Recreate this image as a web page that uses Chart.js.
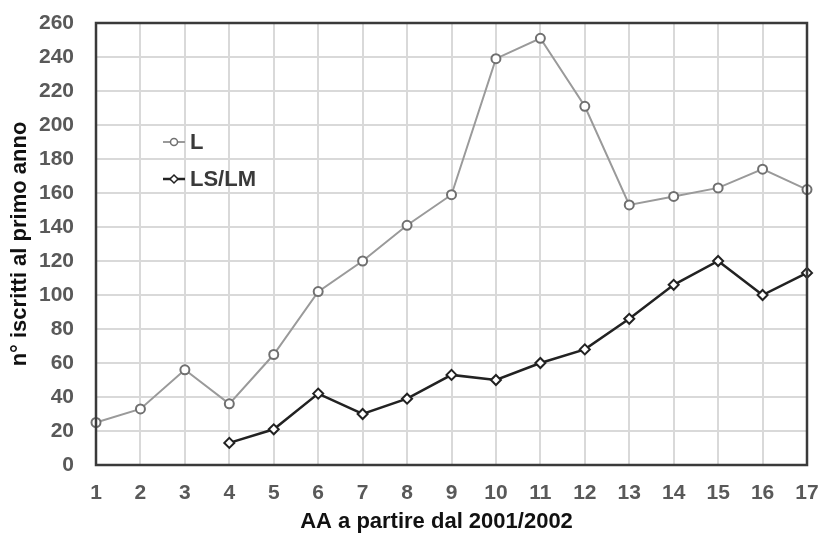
<!DOCTYPE html>
<html>
<head>
<meta charset="utf-8">
<script src="https://cdn.jsdelivr.net/npm/chart.js@4"></script>
<style>
  html, body { margin: 0; padding: 0; background: #fff; }
  #wrap { width: 820px; height: 537px; }
</style>
</head>
<body>
<div id="wrap"><canvas id="chart"></canvas></div>
<script>
// anni accademici (1 = 2001/2002)
const anni = ['1','2','3','4','5','6','7','8','9','10','11','12','13','14','15','16','17'];
// iscritti al primo anno, lauree triennali
const iscrittiL = [25, 33, 56, 36, 65, 102, 120, 141, 159, 239, 251, 211, 153, 158, 163, 174, 162];
// iscritti al primo anno, lauree specialistiche / magistrali (dal 4° anno)
const iscrittiLSLM = [null, null, null, 13, 21, 42, 30, 39, 53, 50, 60, 68, 86, 106, 120, 100, 113];
const yTicks = { min: 0, max: 260, step: 20 };
const titoloX = 'AA a partire dal 2001/2002';

const FONT = "'Liberation Sans', Arial, sans-serif";

// cornice scura attorno all'area del grafico
const framePlugin = {
  id: 'frame',
  afterDatasetsDraw(chart) {
    const { ctx, chartArea: a } = chart;
    ctx.save();
    ctx.strokeStyle = '#3a3a3a';
    ctx.lineWidth = 2.5;
    ctx.strokeRect(a.left, a.top, a.right - a.left, a.bottom - a.top);
    ctx.restore();
  }
};

// titolo asse x, un po' a sinistra del centro
const xTitlePlugin = {
  id: 'xTitle',
  afterDraw(chart) {
    const { ctx, chartArea: a } = chart;
    ctx.save();
    ctx.fillStyle = '#111';
    ctx.font = 'bold 22px ' + FONT;
    ctx.textAlign = 'center';
    ctx.textBaseline = 'middle';
    ctx.fillText(titoloX, (a.left + a.right) / 2 - 15, chart.height - 15);
    ctx.restore();
  }
};

// legenda interna all'area, in alto a sinistra
const innerLegend = {
  id: 'innerLegend',
  afterDraw(chart) {
    const { ctx, chartArea: a } = chart;
    const x0 = a.left + 67;
    let y = a.top + 119;
    ctx.save();
    chart.data.datasets.forEach(ds => {
      ctx.strokeStyle = ds.borderColor;
      ctx.lineWidth = ds.borderWidth;
      ctx.beginPath();
      ctx.moveTo(x0, y);
      ctx.lineTo(x0 + 22, y);
      ctx.stroke();
      ctx.fillStyle = '#fff';
      ctx.strokeStyle = ds.pointBorderColor;
      ctx.lineWidth = 1.5;
      ctx.beginPath();
      if (ds.pointStyle === 'circle') {
        ctx.arc(x0 + 11, y, 3.5, 0, Math.PI * 2);
      } else {
        ctx.moveTo(x0 + 11, y - 4); ctx.lineTo(x0 + 15, y);
        ctx.lineTo(x0 + 11, y + 4); ctx.lineTo(x0 + 7, y);
        ctx.closePath();
      }
      ctx.fill();
      ctx.stroke();
      ctx.fillStyle = '#3a3a3a';
      ctx.font = 'bold 22px ' + FONT;
      ctx.textBaseline = 'middle';
      ctx.fillText(ds.label, x0 + 27, y + 1);
      y += 37;
    });
    ctx.restore();
  }
};

new Chart(document.getElementById('chart'), {
  type: 'line',
  data: {
    labels: anni,
    datasets: [
      {
        label: 'L',
        data: iscrittiL,
        borderColor: '#9a9a9a',
        borderWidth: 2,
        pointStyle: 'circle',
        pointRadius: 4.5,
        pointBorderWidth: 2,
        pointBorderColor: '#707070',
        pointBackgroundColor: '#fff',
        tension: 0
      },
      {
        label: 'LS/LM',
        data: iscrittiLSLM,
        borderColor: '#222',
        borderWidth: 2.5,
        pointStyle: 'rectRot',
        pointRadius: 5,
        pointBorderWidth: 2,
        pointBorderColor: '#222',
        pointBackgroundColor: '#fff',
        tension: 0
      }
    ]
  },
  options: {
    responsive: true,
    maintainAspectRatio: false,
    animation: false,
    layout: { autoPadding: false, padding: { top: 23, right: 13, left: 0, bottom: 0 } },
    plugins: {
      legend: { display: false },
      tooltip: { enabled: false }
    },
    scales: {
      x: {
        offset: false,
        grid: { color: '#d9d9d9', lineWidth: 2, drawTicks: false },
        border: { display: false },
        ticks: { color: '#595959', padding: 16, font: { family: FONT, size: 21, weight: 'bold' }, maxRotation: 0, autoSkip: false },
        afterFit(scale) {
          scale.height = 72;
          scale.paddingLeft = 0;
          scale.paddingRight = 0;
        }
      },
      y: {
        min: yTicks.min,
        max: yTicks.max,
        grid: { color: '#d9d9d9', lineWidth: 2, drawTicks: false },
        border: { display: false },
        ticks: { stepSize: yTicks.step, color: '#595959', padding: 22, font: { family: FONT, size: 21, weight: 'bold' } },
        title: {
          display: true,
          text: 'n° iscritti al primo anno',
          color: '#111',
          font: { family: FONT, size: 22, weight: 'bold' },
          padding: { top: 7, bottom: 0 }
        },
        afterFit(scale) {
          scale.width = 96;
          scale.paddingTop = 0;
          scale.paddingBottom = 0;
        }
      }
    }
  },
  plugins: [framePlugin, xTitlePlugin, innerLegend]
});
</script>
</body>
</html>
